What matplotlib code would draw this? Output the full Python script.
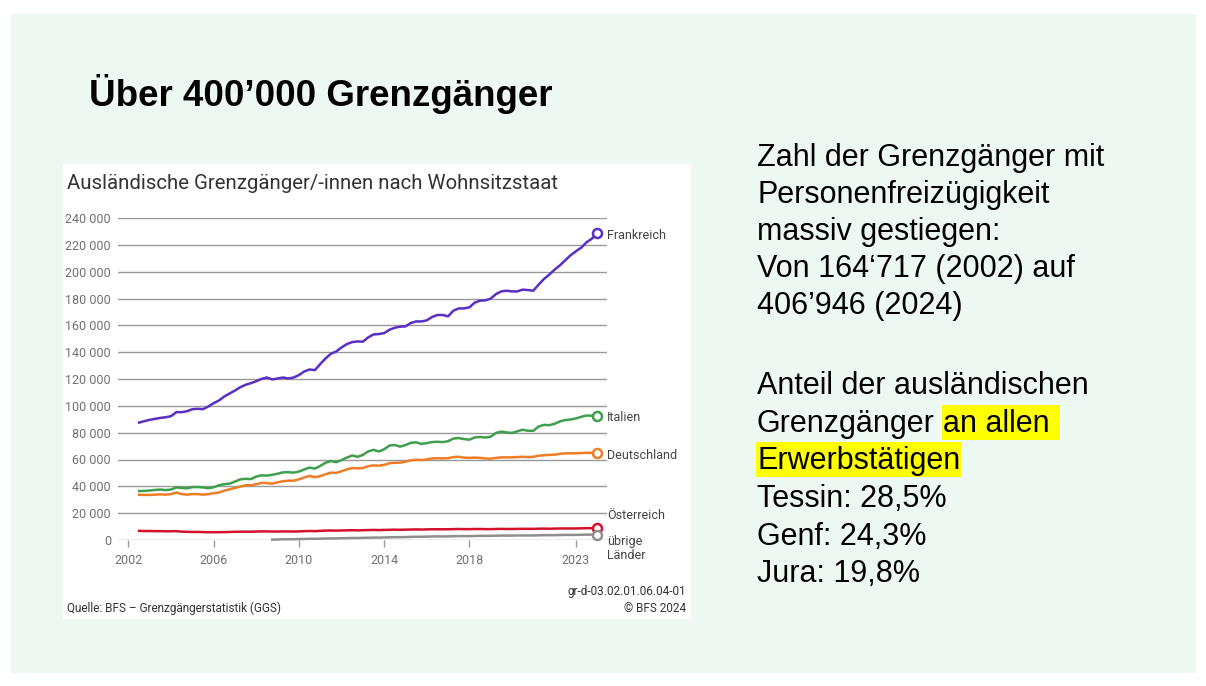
import numpy as np
import matplotlib.pyplot as plt
from matplotlib.patches import Rectangle
from matplotlib.ticker import FuncFormatter

W, H = 1206, 686

# Ausländische Grenzgänger nach Wohnsitzstaat, quarterly, in 1000
# first quarter shown: 2002 Q3
first_quarter = 2002.5
frankreich = [
    87.5, 88.6,
    89.6, 90.3, 91.0, 91.5,
    92.3, 95.3, 95.3, 96.0,
    97.5, 97.8, 97.5, 99.5,
    102.0, 104.0, 107.0, 109.2,
    111.4, 113.9, 115.7, 116.9,
    118.4, 120.1, 121.1, 119.7,
    120.4, 121.1, 120.4, 121.1,
    122.9, 125.6, 127.1, 126.6,
    131.1, 135.3, 138.8, 140.5,
    143.5, 146.0, 147.5, 148.0,
    147.8, 151.0, 153.2, 153.5,
    154.2, 156.7, 158.2, 159.0,
    159.2, 161.7, 162.9, 162.9,
    163.7, 166.2, 167.7, 167.7,
    166.7, 170.9, 172.6, 172.6,
    173.4, 176.9, 178.4, 178.6,
    179.9, 183.3, 185.3, 185.8,
    185.3, 185.3, 186.6, 186.3,
    185.8, 190.3, 194.5, 197.8,
    201.5, 204.7, 208.5, 212.2,
    215.2, 217.9, 221.9, 224.6,
    228.9,
]
italien = [
    36.5, 36.6,
    36.9, 37.3, 37.6, 37.2,
    37.6, 39.2, 38.8, 38.5,
    39.4, 39.5, 39.2, 38.6,
    39.3, 40.8, 41.6, 42.0,
    43.6, 45.2, 45.6, 45.4,
    47.3, 48.2, 48.0, 48.6,
    49.4, 50.4, 50.6, 50.2,
    51.0, 52.6, 54.0, 53.2,
    55.2, 57.6, 58.8, 58.0,
    59.6, 61.4, 63.0, 62.0,
    63.4, 66.0, 67.2, 66.0,
    67.6, 70.4, 70.8, 69.6,
    70.8, 72.4, 72.8, 71.6,
    72.2, 73.0, 73.2, 73.0,
    73.6, 75.6, 76.0, 75.2,
    74.8, 76.4, 76.8, 76.4,
    77.0, 79.8, 80.8, 80.2,
    79.8, 81.0, 82.2, 81.4,
    81.4, 84.6, 85.8, 85.6,
    86.6, 88.4, 89.4, 89.8,
    90.6, 91.8, 92.8, 92.6,
    92.6,
]
deutschland = [
    33.7, 33.6,
    33.6, 33.8, 34.0, 33.8,
    34.2, 35.4, 34.2, 33.8,
    34.2, 34.2, 33.8, 34.2,
    34.9, 35.4, 36.8, 37.8,
    38.8, 39.8, 40.8, 40.8,
    41.6, 42.6, 42.4, 42.0,
    43.0, 43.8, 44.2, 44.2,
    45.2, 46.6, 47.8, 46.8,
    47.6, 49.0, 50.2, 50.0,
    51.2, 52.6, 53.6, 53.4,
    53.6, 55.0, 55.6, 55.4,
    56.0, 57.2, 57.6, 57.6,
    58.4, 59.4, 59.8, 59.6,
    60.0, 60.8, 61.0, 60.8,
    61.0, 61.8, 62.0, 61.4,
    61.2, 61.4, 61.2, 60.8,
    60.6, 61.2, 61.6, 61.6,
    61.6, 61.8, 62.0, 61.8,
    62.0, 62.8, 63.2, 63.4,
    63.6, 64.2, 64.6, 64.6,
    64.6, 64.8, 65.0, 65.0,
    65.0,
]
oesterreich = [
    6.8, 6.7,
    6.7, 6.6, 6.6, 6.5,
    6.5, 6.6, 6.2, 6.1,
    6.0, 6.0, 5.9, 5.8,
    5.8, 5.8, 5.9, 6.0,
    6.1, 6.2, 6.2, 6.2,
    6.3, 6.4, 6.4, 6.3,
    6.3, 6.4, 6.4, 6.3,
    6.4, 6.6, 6.7, 6.6,
    6.8, 7.0, 7.1, 7.0,
    7.1, 7.2, 7.3, 7.2,
    7.3, 7.4, 7.5, 7.4,
    7.5, 7.6, 7.7, 7.6,
    7.7, 7.8, 7.9, 7.8,
    7.9, 8.0, 8.0, 8.0,
    8.0, 8.1, 8.2, 8.1,
    8.1, 8.2, 8.2, 8.1,
    8.1, 8.2, 8.3, 8.2,
    8.2, 8.3, 8.3, 8.3,
    8.3, 8.4, 8.5, 8.4,
    8.5, 8.6, 8.6, 8.6,
    8.6, 8.7, 8.8, 8.8,
    8.8,
]
# no values before 2008 Q4
uebrige = [np.nan] * 25 + [
    0.3,
    0.4, 0.5, 0.6, 0.6,
    0.7, 0.8, 0.9, 0.9,
    1.0, 1.1, 1.2, 1.2,
    1.3, 1.4, 1.5, 1.5,
    1.6, 1.7, 1.8, 1.8,
    1.9, 2.0, 2.1, 2.1,
    2.2, 2.3, 2.4, 2.4,
    2.5, 2.6, 2.7, 2.6,
    2.7, 2.8, 2.9, 2.9,
    2.9, 3.0, 3.1, 3.1,
    3.1, 3.2, 3.3, 3.3,
    3.3, 3.4, 3.4, 3.4,
    3.4, 3.5, 3.6, 3.6,
    3.6, 3.7, 3.8, 3.8,
    3.8, 3.9, 4.0, 4.0,
    4.0,
]

series = [
    ("Frankreich", frankreich, "#5a2fc4", 227000),
    ("Italien", italien, "#3f9f4d", 91000),
    ("Deutschland", deutschland, "#ef7d26", 63300),
    ("Österreich", oesterreich, "#d3112d", 18600),
    ("übrige\nLänder", uebrige, "#8e8e8e", -6700),
]
year_ticks = [2002, 2006, 2010, 2014, 2018, 2023]

BG = "#eef8f3"
GRID = "#999999"
YELLOW = "#ffff00"
CHART_FONT = ["Roboto", "DejaVu Sans"]
SLIDE_FONT = ["Liberation Sans", "DejaVu Sans"]

fig = plt.figure(figsize=(W / 100, H / 100), dpi=100)

# slide background, pixel coordinates
bg = fig.add_axes([0, 0, 1, 1], zorder=0)
bg.set_xlim(0, W)
bg.set_ylim(H, 0)
bg.axis("off")
bg.add_patch(Rectangle((11, 14), 1185, 659, color=BG, lw=0, zorder=0))
bg.add_patch(Rectangle((63, 164), 628, 455, color="white", lw=0, zorder=1))

bg.text(89, 106, "Über 400’000 Grenzgänger", family=SLIDE_FONT,
        fontsize=26.5, fontweight="bold", va="baseline", zorder=3)

# chart
ax = fig.add_axes([118 / W, 1 - 540 / H, 489 / W, 322 / H], zorder=2)
ax.set_facecolor("none")
for s in ax.spines.values():
    s.set_visible(False)

n = len(frankreich)
quarters = first_quarter + np.arange(n) / 4

for name, vals, color, label_y in series:
    ys = np.array(vals) * 1000
    ax.plot(quarters, ys, color=color, lw=1.8, solid_joinstyle="round",
            zorder=3, clip_on=False)
    ax.plot(quarters[-1], ys[-1], "o", mfc="white", mec=color, ms=6.5,
            mew=1.8, zorder=4, clip_on=False)
    ax.text(1.0, label_y, name, transform=ax.get_yaxis_transform(),
            family=CHART_FONT, fontsize=9, color="#444444", va="center",
            ha="left", linespacing=1.1)

ax.set_xlim(2001.51, 2024.46)
ax.set_ylim(0, 240000)
ax.set_yticks(range(0, 240001, 20000))
ax.yaxis.set_major_formatter(
    FuncFormatter(lambda v, p: f"{int(v):,}".replace(",", " ")))
ax.grid(axis="y", color=GRID, lw=1)
ax.set_axisbelow(True)
ax.set_xticks(year_ticks)
ax.tick_params(axis="y", length=0, pad=5, labelsize=9, labelcolor="#707070")
ax.tick_params(axis="x", length=5, width=1, color=GRID, pad=5, labelsize=9,
               labelcolor="#707070")
for lab in ax.get_xticklabels() + ax.get_yticklabels():
    lab.set_family(CHART_FONT)

bg.text(67, 189, "Ausländische Grenzgänger/-innen nach Wohnsitzstaat",
        family=CHART_FONT, fontsize=14.7, color="#333333", va="baseline",
        zorder=3)
bg.text(67, 612, "Quelle: BFS – Grenzgängerstatistik (GGS)",
        family=CHART_FONT, fontsize=8.5, color="#333333", va="baseline",
        zorder=3)
bg.text(686, 595, "gr-d-03.02.01.06.04-01", family=CHART_FONT,
        fontsize=8.5, color="#333333", va="baseline", ha="right", zorder=3)
bg.text(686, 612, "© BFS 2024", family=CHART_FONT,
        fontsize=8.5, color="#333333", va="baseline", ha="right", zorder=3)

# text on the right
text_kw = dict(family=SLIDE_FONT, fontsize=22, va="baseline", zorder=3)
lines = [
    (166, "Zahl der Grenzgänger mit"),
    (203, "Personenfreizügigkeit"),
    (240, "massiv gestiegen:"),
    (277, "Von 164‘717 (2002) auf"),
    (314, "406’946 (2024)"),
    (394, "Anteil der ausländischen"),
    (507, "Tessin: 28,5%"),
    (545, "Genf: 24,3%"),
    (582, "Jura: 19,8%"),
]
for y, s in lines:
    bg.text(757, y, s, **text_kw)

t1 = bg.text(757, 432, "Grenzgänger", **text_kw)
t3 = bg.text(757, 469, "Erwerbstätigen", **text_kw)

fig.canvas.draw()
renderer = fig.canvas.get_renderer()
inv = bg.transData.inverted()


def x_extent(txt):
    bb = txt.get_window_extent(renderer)
    (x0, _), (x1, _) = inv.transform([[bb.x0, bb.y0], [bb.x1, bb.y1]])
    return x0, x1


_, g_end = x_extent(t1)
t2 = bg.text(g_end + 8, 432, "an allen", **text_kw)
fig.canvas.draw()

for txt, extra in [(t2, 9), (t3, 0)]:
    x0, x1 = x_extent(txt)
    y = txt.get_position()[1]
    bg.add_patch(Rectangle((x0 - 1, y - 27), x1 - x0 + 2 + extra, 35,
                           color=YELLOW, lw=0, zorder=2))

fig.savefig("out.png", dpi=100)
